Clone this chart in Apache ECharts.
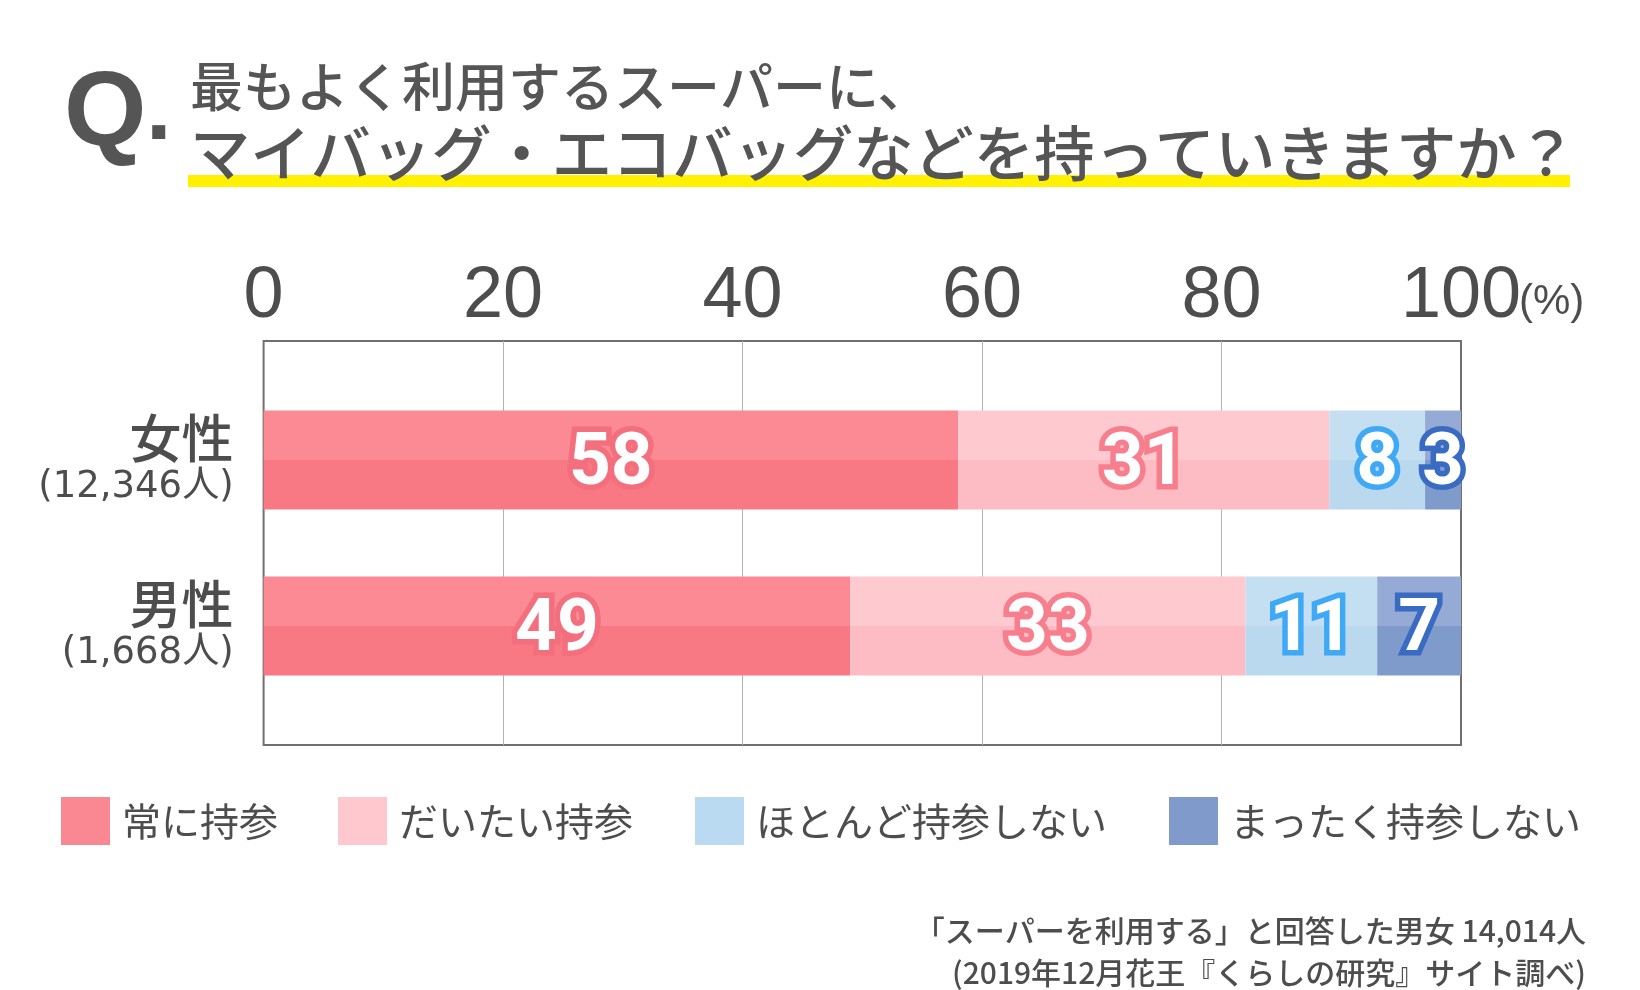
<!DOCTYPE html>
<html><head><meta charset="utf-8">
<script src="https://cdn.jsdelivr.net/npm/echarts@6/dist/echarts.min.js"></script>
<style>html,body{margin:0;padding:0;background:#fff}#c{width:1640px;height:990px}</style>
</head><body><div id="c"></div>
<script>
// ---- data ----
const categories = ['女性', '男性'];
const respondents = ['12,346', '1,668'];
const seriesNames = ['常に持参', 'だいたい持参', 'ほとんど持参しない', 'まったく持参しない'];
const alwaysBring = [58, 49];
const mostlyBring = [31, 33];
const rarelyBring = [8, 11];
const neverBring = [3, 7];
const xTicks = [0, 20, 40, 60, 80, 100];
const xTickLabels = ['0', '20', '40', '60', '80', '100'];
const unitLabel = '(%)';
const titleLine1 = '最もよく利用するスーパーに、';
const titleLine2 = 'マイバッグ・エコバッグなどを持っていきますか？';
const note1 = '「スーパーを利用する」と回答した男女 14,014人';
const note2 = '(2019年12月花王『くらしの研究』サイト調べ)';

// ---- style ----
const TXT = '#4d4d4d';
const JP = '"Noto Sans CJK JP", "Noto Sans", sans-serif';
const styles = [
  { top: '#FB8A95', bottom: '#F87984', legend: '#F98893', stroke: '#F36F7D' },
  { top: '#FEC9CF', bottom: '#FDBCC4', legend: '#FEC8CE', stroke: '#F77E8C' },
  { top: '#C5DFF2', bottom: '#BAD8EE', legend: '#B9DAF0', stroke: '#3FA9F5' },
  { top: '#95AAD5', bottom: '#7F9BCB', legend: '#7F9ACB', stroke: '#3A6BC3' }
];
const values = [alwaysBring, mostlyBring, rarelyBring, neverBring];
const legendLeft = [61, 338, 695, 1169];

function twoTone(t, b) {
  return new echarts.graphic.LinearGradient(0, 0, 0, 1, [
    { offset: 0, color: t }, { offset: 0.5, color: t },
    { offset: 0.5, color: b }, { offset: 1, color: b }
  ]);
}

const chart = echarts.init(document.getElementById('c'), null, { renderer: 'canvas' });

const series = seriesNames.map((name, i) => ({
  name: name,
  type: 'bar',
  stack: 'total',
  xAxisIndex: 1,
  yAxisIndex: 1,
  barWidth: 99,
  data: values[i],
  itemStyle: { color: twoTone(styles[i].top, styles[i].bottom) },
  emphasis: { disabled: true },
  label: {
    show: true,
    position: 'inside',
    offset: [0, 6],
    color: '#fff',
    fontFamily: 'Roboto, "Liberation Sans", sans-serif',
    fontWeight: 'bold',
    fontSize: 73,
    textBorderColor: styles[i].stroke,
    textBorderWidth: 11
  }
}));

const legends = seriesNames.map((name, i) => ({
  show: true,
  left: legendLeft[i],
  top: 797,
  padding: 0,
  orient: 'horizontal',
  icon: 'rect',
  itemWidth: 49,
  itemHeight: 48,
  selectedMode: false,
  data: [{ name: name, itemStyle: { color: styles[i].legend } }],
  textStyle: { fontFamily: JP, fontSize: 39, color: TXT, padding: [0, 0, 0, 7] }
}));

const option = {
  backgroundColor: '#fff',
  animation: false,
  grid: [
    { left: 263.6, right: 179, top: 341, height: 404, show: true, borderColor: '#707070', borderWidth: 2, backgroundColor: 'transparent' },
    { left: 263.6, right: 179, top: 377, height: 332 }
  ],
  xAxis: [
    {
      gridIndex: 0, type: 'value', position: 'top', min: 0, max: 100, interval: 20,
      axisLine: { show: false }, axisTick: { show: false },
      splitLine: { show: true, showMinLine: false, showMaxLine: false, lineStyle: { color: '#b3b3b3', width: 1 } },
      axisLabel: {
        margin: 8, fontSize: 72, color: TXT,
        fontFamily: '"Liberation Sans", sans-serif',
        formatter: v => xTickLabels[xTicks.indexOf(v)]
      }
    },
    { gridIndex: 1, type: 'value', min: 0, max: 100, show: false }
  ],
  yAxis: [
    { gridIndex: 0, type: 'value', min: 0, max: 1, show: false },
    {
      gridIndex: 1, type: 'category', inverse: true, data: categories,
      axisLine: { show: false }, axisTick: { show: false },
      axisLabel: {
        margin: 30, align: 'right',
        formatter: (v, idx) => '{a|' + v + '}\n{b|(' + respondents[idx] + '人)}',
        rich: {
          a: { fontFamily: JP, fontSize: 52, lineHeight: 54, color: TXT, align: 'right', fontWeight: 500 },
          b: { fontFamily: '"DejaVu Sans", "Noto Sans CJK JP", sans-serif', fontSize: 37, lineHeight: 44, color: TXT, align: 'right' }
        }
      }
    }
  ],
  legend: legends,
  series: series,
  graphic: [
    { type: 'rect', shape: { x: 188, y: 175, width: 1382, height: 12 }, style: { fill: '#FFF100' }, z: 1 },
    { type: 'text', x: 64, y: 116, z: 2, style: { text: 'Q', font: 'bold 106px "Liberation Sans", sans-serif', fill: '#555', textVerticalAlign: 'middle' } },
    { type: 'text', x: 146, y: 160, z: 2, style: { text: '.', font: 'bold 92px "Liberation Sans", sans-serif', fill: '#555', textVerticalAlign: 'bottom' } },
    { type: 'text', x: 190, y: 87, z: 2, style: { text: titleLine1, font: '500 53px ' + JP, fill: '#555', textVerticalAlign: 'middle' } },
    { type: 'text', x: 190, y: 153, z: 2, style: { text: titleLine2, font: '500 60.3px ' + JP, fill: '#555', textVerticalAlign: 'middle' } },
    { type: 'text', x: 1519, y: 302, z: 2, style: { text: unitLabel, font: '42px "Liberation Sans", sans-serif', fill: TXT, textVerticalAlign: 'middle' } },
    { type: 'text', x: 1586, y: 931, z: 2, style: { text: note1, font: '500 30px ' + JP, fill: TXT, textAlign: 'right', textVerticalAlign: 'middle' } },
    { type: 'text', x: 1586, y: 973, z: 2, style: { text: note2, font: '500 30px ' + JP, fill: TXT, textAlign: 'right', textVerticalAlign: 'middle' } }
  ]
};
chart.setOption(option);
</script>
</body></html>
